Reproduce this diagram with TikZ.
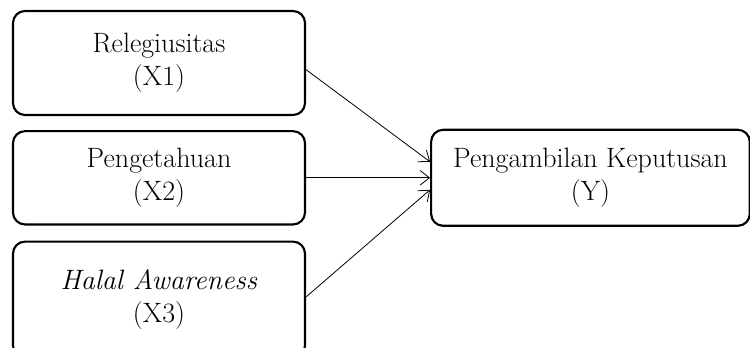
\documentclass[tikz,border=0pt]{standalone}
\usetikzlibrary{arrows.meta, positioning}

\tikzset{
  varbox/.style={draw, line width=1.6pt, rounded corners=9pt, minimum width=219pt, align=center, font=\fontsize{21}{25}\selectfont},
  link/.style={-{Straight Barb[length=7pt, width=11pt]}, line width=0.6pt}
}

\begin{document}
\begin{tikzpicture}[x=0.75pt, y=-0.75pt]
  % Bildrahmen
  \useasboundingbox (0,0) rectangle (750,347);

  % Unabhaengige Variablen links
  \node[varbox, minimum height=78pt] (x1) at (159,63) {Relegiusitas\\(X1)};
  \node[varbox, minimum height=70pt, below=10.5pt of x1] (x2) {Pengetahuan\\(X2)};
  \node[varbox, minimum height=87pt, below=11.25pt of x2] (x3) {\textit{Halal Awareness}\\(X3)};

  % Abhaengige Variable rechts
  \node[varbox, minimum width=239pt, minimum height=72pt, right=93pt of x2] (y) {Pengambilan Keputusan\\(Y)};

  % Verbindungen
  \draw[link] ([yshift=-5pt]x1.east) -- ([yshift=12pt]y.west);
  \draw[link] (x2.east) -- (y.west);
  \draw[link] ([yshift=2pt]x3.east) -- ([yshift=-9pt]y.west);
\end{tikzpicture}
\end{document}
